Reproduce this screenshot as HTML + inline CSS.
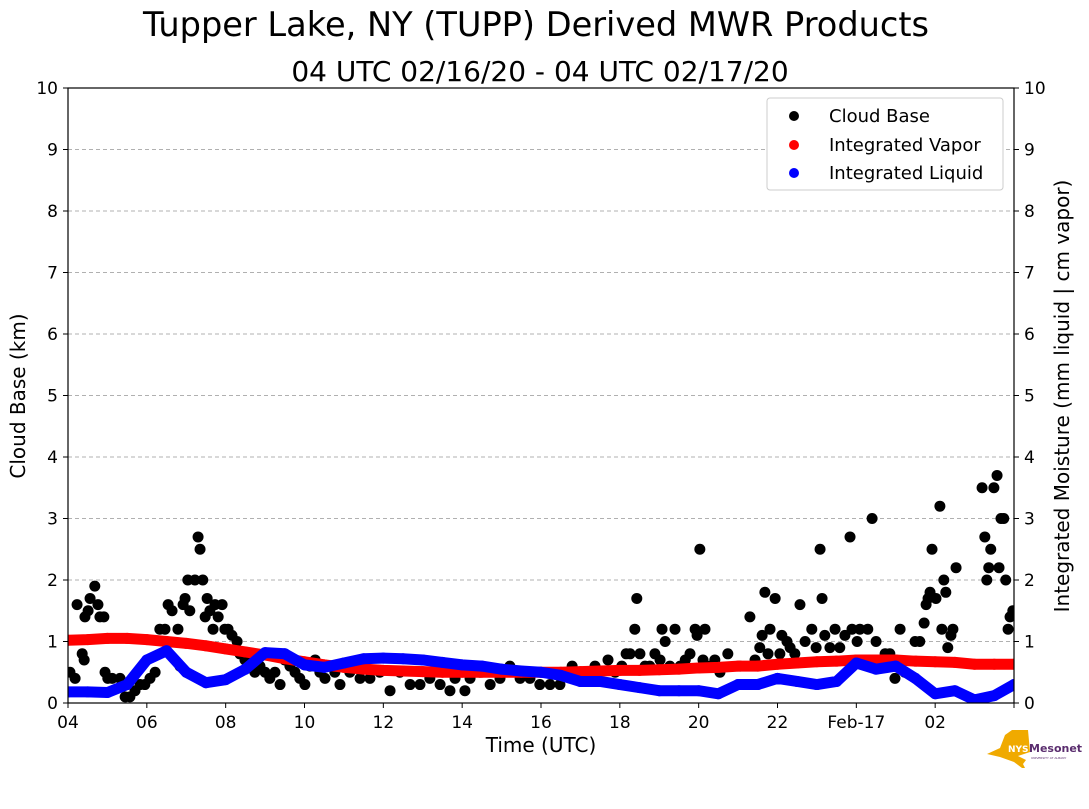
<!DOCTYPE html>
<html><head><meta charset="utf-8"><style>
body{margin:0;background:#fff;width:1089px;height:804px;overflow:hidden;font-family:"Liberation Sans","DejaVu Sans",sans-serif}
svg text{font-family:"DejaVu Sans","Liberation Sans",sans-serif}
</style></head><body>
<svg id="chart" width="1089" height="804">
<text x="536" y="36" font-size="33.6" text-anchor="middle">Tupper Lake, NY (TUPP) Derived MWR Products</text>
<text x="540" y="81" font-size="28" text-anchor="middle">04 UTC 02/16/20 - 04 UTC 02/17/20</text>
<g id="grid"></g><g id="marks"></g><g id="axes"></g>
<text transform="translate(25,396) rotate(-90)" font-size="20" text-anchor="middle">Cloud Base (km)</text>
<text transform="translate(1069,396) rotate(-90)" font-size="20" text-anchor="middle">Integrated Moisture (mm liquid | cm vapor)</text>
<text x="541" y="752" font-size="20" text-anchor="middle">Time (UTC)</text>
<g>
<rect x="767" y="98" width="236" height="92" rx="3" fill="#fff" stroke="#ccc"/>
<circle cx="794" cy="116" r="5" fill="#000"/><text x="829" y="122" font-size="18">Cloud Base</text>
<circle cx="794" cy="145" r="5" fill="#f00"/><text x="829" y="151" font-size="18">Integrated Vapor</text>
<circle cx="794" cy="173" r="5" fill="#00f"/><text x="829" y="179" font-size="18">Integrated Liquid</text>
</g>
<g>
<polygon points="987,754 1000,748 1005,735 1012,730 1028,730 1030,752 1018,756 1026,760 1023,764 1025,768 1022,768 1014,762 1000,757" fill="#f0aa00"/>
<text x="1008" y="752" font-size="9" fill="#fff" font-weight="bold">NYS</text>
<text x="1029" y="752" font-size="11" fill="#5a2d6e" font-weight="bold">Mesonet</text>
<text x="1031" y="759" font-size="3" fill="#5a2d6e">UNIVERSITY AT ALBANY</text>
</g>
</svg>
<script>
const yTicks=[0,1,2,3,4,5,6,7,8,9,10];
const xTickHours=[0,2,4,6,8,10,12,14,16,18,20,22,24];
const xTickLabels=["04","06","08","10","12","14","16","18","20","22","Feb-17","02"];
const cbTime=[0.05,0.18,0.23,0.36,0.41,0.43,0.51,0.56,0.68,0.76,0.81,0.91,0.94,1.01,1.12,1.32,1.45,1.57,1.70,1.83,1.95,2.08,2.21,2.33,2.46,2.54,2.64,2.79,2.84,2.92,2.97,3.04,3.09,3.22,3.30,3.35,3.42,3.48,3.53,3.60,3.68,3.73,3.81,3.91,3.98,4.06,4.16,4.29,4.36,4.49,4.62,4.74,4.87,5.00,5.12,5.25,5.38,5.50,5.63,5.76,5.88,6.01,6.14,6.27,6.39,6.52,6.65,6.77,6.90,7.15,7.41,7.66,7.91,8.17,8.42,8.68,8.93,9.18,9.44,9.69,9.82,10.07,10.20,10.45,10.71,10.96,11.21,11.47,11.72,11.97,12.23,12.48,12.79,12.99,13.37,13.70,13.88,14.05,14.16,14.26,14.38,14.43,14.51,14.64,14.76,14.89,15.02,15.07,15.15,15.27,15.40,15.53,15.66,15.78,15.91,15.96,16.03,16.11,16.16,16.29,16.41,16.54,16.74,17.05,17.30,17.43,17.55,17.61,17.68,17.76,17.81,17.94,18.06,18.11,18.24,18.32,18.44,18.57,18.70,18.87,18.98,19.08,19.13,19.20,19.33,19.46,19.58,19.71,19.84,19.89,20.02,20.09,20.29,20.40,20.50,20.60,20.73,20.85,20.98,21.11,21.23,21.49,21.61,21.72,21.77,21.82,21.87,21.92,22.02,22.12,22.17,22.22,22.27,22.32,22.40,22.45,22.53,23.19,23.26,23.31,23.36,23.41,23.49,23.57,23.62,23.67,23.74,23.79,23.85,23.90,23.97];
const cbKm=[0.5,0.4,1.6,0.8,0.7,1.4,1.5,1.7,1.9,1.6,1.4,1.4,0.5,0.4,0.4,0.4,0.1,0.1,0.2,0.3,0.3,0.4,0.5,1.2,1.2,1.6,1.5,1.2,0.6,1.6,1.7,2.0,1.5,2.0,2.7,2.5,2.0,1.4,1.7,1.5,1.2,1.6,1.4,1.6,1.2,1.2,1.1,1.0,0.8,0.7,0.6,0.5,0.6,0.5,0.4,0.5,0.3,0.7,0.6,0.5,0.4,0.3,0.6,0.7,0.5,0.4,0.6,0.5,0.3,0.5,0.4,0.4,0.5,0.2,0.5,0.3,0.3,0.4,0.3,0.2,0.4,0.2,0.4,0.5,0.3,0.4,0.6,0.4,0.4,0.3,0.3,0.3,0.6,0.4,0.6,0.7,0.5,0.6,0.8,0.8,1.2,1.7,0.8,0.6,0.6,0.8,0.7,1.2,1.0,0.6,1.2,0.6,0.7,0.8,1.2,1.1,2.5,0.7,1.2,0.6,0.7,0.5,0.8,0.6,1.4,0.7,0.9,1.1,1.8,0.8,1.2,1.7,0.8,1.1,1.0,0.9,0.8,1.6,1.0,1.2,0.9,2.5,1.7,1.1,0.9,1.2,0.9,1.1,2.7,1.2,1.0,1.2,1.2,3.0,1.0,0.7,0.8,0.8,0.4,1.2,0.5,1.0,1.0,1.3,1.6,1.7,1.8,2.5,1.7,3.2,1.2,2.0,1.8,0.9,1.1,1.2,2.2,3.5,2.7,2.0,2.2,2.5,3.5,3.7,2.2,3.0,3.0,2.0,1.2,1.4,1.5];
const moistTime=[0,0.5,1,1.5,2,2.5,3,3.5,4,4.5,5,5.5,6,6.5,7,7.5,8,8.5,9,9.5,10,10.5,11,11.5,12,12.5,13,13.5,14,14.5,15,15.5,16,16.5,17,17.5,18,18.5,19,19.5,20,20.5,21,21.5,22,22.5,23,23.5,24];
const vapor=[1.02,1.03,1.05,1.05,1.03,1.0,0.97,0.93,0.88,0.83,0.78,0.72,0.67,0.62,0.58,0.55,0.53,0.52,0.51,0.5,0.5,0.5,0.5,0.5,0.5,0.5,0.51,0.52,0.53,0.53,0.54,0.55,0.57,0.58,0.6,0.6,0.63,0.65,0.67,0.68,0.7,0.7,0.7,0.68,0.67,0.66,0.63,0.63,0.63];
const liquid=[0.18,0.18,0.17,0.3,0.7,0.85,0.5,0.33,0.38,0.55,0.82,0.8,0.62,0.58,0.65,0.72,0.73,0.72,0.7,0.66,0.62,0.6,0.55,0.52,0.5,0.45,0.35,0.35,0.3,0.25,0.2,0.2,0.2,0.15,0.3,0.3,0.4,0.35,0.3,0.35,0.65,0.55,0.6,0.4,0.15,0.2,0.05,0.12,0.3];
const X0=68,X1=1014,Y0=703,Y1=88;
const xs=h=>X0+h/24*(X1-X0), ys=v=>Y0-v/10*(Y0-Y1);
const NS='http://www.w3.org/2000/svg';
function mk(t,a,p){const e=document.createElementNS(NS,t);for(const k in a)e.setAttribute(k,a[k]);p.appendChild(e);return e;}
const grid=document.getElementById('grid'),marks=document.getElementById('marks'),axes=document.getElementById('axes');
yTicks.forEach(v=>{
 if(v>0&&v<10){const g=mk('line',{x1:X0,x2:X1,y1:ys(v),y2:ys(v),stroke:'#b0b0b0','stroke-dasharray':'4,3'},grid);
 
 }
 mk('line',{x1:X0-5,x2:X0,y1:ys(v),y2:ys(v),stroke:'#000'},axes);
 mk('line',{x1:X1,x2:X1+5,y1:ys(v),y2:ys(v),stroke:'#000'},axes);
 const t=mk('text',{x:X0-10,y:ys(v)+6,'font-size':17,'text-anchor':'end'},axes);t.textContent=v;
 
 
 const t2=mk('text',{x:X1+10,y:ys(v)+6,'font-size':17},axes);t2.textContent=v;
 
 
});
xTickHours.forEach((h,i)=>{
 mk('line',{x1:xs(h),x2:xs(h),y1:Y0,y2:Y0+5,stroke:'#000'},axes);
 if(xTickLabels[i]){const t=mk('text',{x:xs(h),y:Y0+25,'font-size':17,'text-anchor':'middle'},axes);t.textContent=xTickLabels[i];
 
 }
});
const fr=mk('rect',{x:X0,y:Y1,width:X1-X0,height:Y0-Y1,fill:'none',stroke:'#000','stroke-width':1.2},axes);


const cp=mk('clipPath',{id:'cp'},marks);mk('rect',{x:X0,y:Y1,width:X1-X0,height:Y0-Y1},cp);
marks.setAttribute('clip-path','url(#cp)');
cbTime.forEach((h,i)=>{const c=mk('circle',{cx:xs(h),cy:ys(cbKm[i]),r:5.5,fill:'#000'},marks);
 
 });
function series(vals,col,name){
 const pts=vals.map((v,i)=>xs(moistTime[i])+','+ys(v)).join(' ');
 const l=mk('polyline',{points:pts,fill:'none',stroke:col,'stroke-width':11,'stroke-linecap':'round','stroke-linejoin':'round'},marks);
 
 
 vals.forEach((v,i)=>{const c=mk('circle',{cx:xs(moistTime[i]),cy:ys(v),r:5.5,fill:col},marks);
 
 });
}
series(vapor,'#f00','integrated-vapor');
series(liquid,'#00f','integrated-liquid');
</script>
</body></html>
